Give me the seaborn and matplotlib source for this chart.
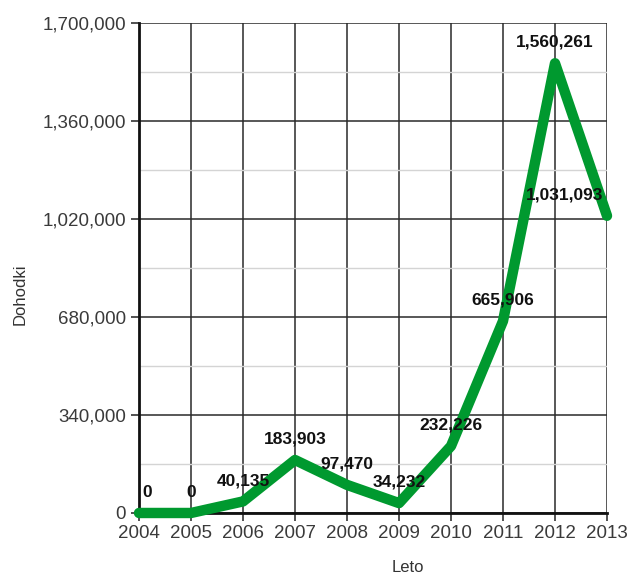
import matplotlib
matplotlib.use("Agg")
import matplotlib.pyplot as plt
from matplotlib.ticker import MultipleLocator, FuncFormatter
import seaborn as sns
import pandas as pd

years = [2004, 2005, 2006, 2007, 2008, 2009, 2010, 2011, 2012, 2013]
income = [0, 0, 40135, 183903, 97470, 34232, 232226, 665906, 1560261, 1031093]
x_label = "Leto"
y_label = "Dohodki"

sns.set_theme(style="white")
plt.rcParams["font.family"] = ["Liberation Sans", "DejaVu Sans"]

df = pd.DataFrame({"Leto": years, "Dohodki": income})

fig = plt.figure(figsize=(6.27, 5.76), dpi=100)
ax = fig.add_axes([0.2217, 0.1094, 0.7464, 0.8507])

ax.set_xlim(2004, 2013)
ax.set_ylim(0, 1700000)
ax.yaxis.set_major_locator(MultipleLocator(340000))
ax.yaxis.set_minor_locator(MultipleLocator(170000))
ax.xaxis.set_major_locator(MultipleLocator(1))
ax.yaxis.set_major_formatter(FuncFormatter(lambda v, p: f"{int(v):,}"))
ax.xaxis.set_major_formatter(FuncFormatter(lambda v, p: f"{int(v)}"))

ax.grid(which="minor", axis="y", color="#d4d4d4", linewidth=1.0, zorder=0)
ax.grid(which="major", axis="both", color="#2a2a2a", linewidth=1.1, zorder=1)
ax.set_axisbelow(True)

for side in ["top", "right"]:
    ax.spines[side].set_visible(False)
ax.spines["left"].set_color("#111111")
ax.spines["left"].set_linewidth(2.0)
ax.spines["bottom"].set_color("#111111")
ax.spines["bottom"].set_linewidth(2.0)

ax.tick_params(axis="both", which="major", direction="out", length=6,
               width=1.2, color="#333333", labelsize=13.5,
               labelcolor="#3a3a3a", left=True, bottom=True)
ax.tick_params(axis="y", which="minor", length=0)
ax.tick_params(axis="x", pad=3)

sns.lineplot(data=df, x="Leto", y="Dohodki", ax=ax, color="#00992f",
             linewidth=7.5, solid_capstyle="round", solid_joinstyle="round",
             clip_on=False, zorder=3)

for i, (yr, val) in enumerate(zip(years, income)):
    ha, dx = "center", 0
    if i == 0:
        dx = 6
    if i == len(years) - 1:
        ha, dx = "right", -3
    ax.annotate(f"{val:,}", xy=(yr, val), xytext=(dx, 15),
                textcoords="offset points", ha=ha, va="center",
                fontsize=12.5, fontweight="bold", color="#111111", zorder=4)

ax.set_xlabel("")
ax.set_ylabel("")
fig.text(0.651, 0.0139, x_label, ha="center", va="center", fontsize=12,
         color="#333333")
fig.text(0.032, 0.49, y_label, ha="center", va="center", rotation=90,
         fontsize=12, color="#333333")

fig.savefig("out.png", dpi=100)
